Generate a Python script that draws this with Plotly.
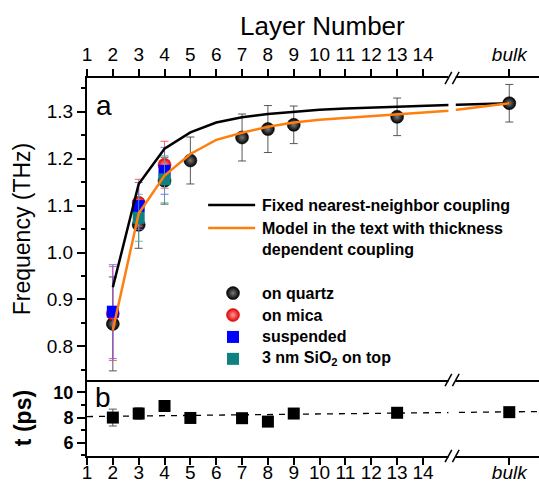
import plotly.graph_objects as go

# ---------------- data ----------------
BULK_POS = 17.34          # axis position used for the "bulk" category
tick_layers = list(range(1, 15))
tick_text = [str(v) for v in tick_layers] + ["<i>bulk</i>"]

quartz_x = [2, 3, 4, 5, 7, 8, 9, 13, "bulk"]
quartz_f = [0.848, 1.059, 1.153, 1.196, 1.245, 1.263, 1.272, 1.289, 1.318]
quartz_err = [0.10, 0.05, 0.05, 0.05, 0.05, 0.05, 0.04, 0.04, 0.04]

mica_x = [2, 3, 4]
mica_f = [0.870, 1.106, 1.187]
mica_err = [0.10, 0.05, 0.05]

susp_x = [2, 3, 4]
susp_f = [0.874, 1.099, 1.174]
susp_err = [0.10, 0.05, 0.05]

sio2_x = [3, 4]
sio2_f = [1.074, 1.156]
sio2_err = [0.05, 0.05]

model_x = [2, 3, 4, 5, 6, 7, 8, 9, 10, 11, 12, 13, 14, 15, "bulk"]
fixed_f = [0.926, 1.146, 1.221, 1.256, 1.277, 1.288, 1.295, 1.300, 1.304,
           1.307, 1.309, 1.311, 1.313, 1.314, 1.318]
thick_f = [0.835, 1.083, 1.164, 1.210, 1.240, 1.255, 1.268, 1.277, 1.283,
           1.287, 1.291, 1.294, 1.298, 1.302, 1.318]

tau_x = [2, 3, 4, 5, 7, 8, 9, 13, "bulk"]
tau_ps = [8.00, 8.32, 8.92, 7.97, 7.95, 7.68, 8.32, 8.38, 8.43]
tau_err = [0.67, 0.45, 0.20, 0.15, 0.15, 0.20, 0.15, 0.15, 0.15]

fit_x = [1, 18.5]
fit_ps = [8.08, 8.48]


def pos(vals):
    return [BULK_POS if v == "bulk" else v for v in vals]


tick_vals = tick_layers + [BULK_POS]
X_RANGE = [1, 18.49]
FONT = "Liberation Sans, Arial, sans-serif"

fig = go.Figure()


def sphere(color, hi):
    return dict(symbol="circle", size=13, color=color,
                gradient=dict(type="radial", color=hi), line=dict(width=0.5, color=color))


def square(color):
    return dict(symbol="square", size=12, color=color, line=dict(width=0))


BLACK_SPHERE = ("#000000", "#7a7a7a")
RED_SPHERE = ("#e00000", "#ff9a9a")

# panel a points
fig.add_trace(go.Scatter(x=pos(quartz_x), y=quartz_f, mode="markers",
                         marker=sphere(*BLACK_SPHERE),
                         error_y=dict(type="data", array=quartz_err, color="rgba(70,70,70,0.9)",
                                      thickness=1, width=4),
                         xaxis="x", yaxis="y", showlegend=False))
fig.add_trace(go.Scatter(x=pos(mica_x), y=mica_f, mode="markers",
                         marker=sphere(*RED_SPHERE),
                         error_y=dict(type="data", array=mica_err, color="rgba(255,70,70,0.85)",
                                      thickness=1, width=4),
                         xaxis="x", yaxis="y", showlegend=False))
fig.add_trace(go.Scatter(x=pos(susp_x), y=susp_f, mode="markers",
                         marker=square("#0000ff"),
                         error_y=dict(type="data", array=susp_err, color="rgba(90,90,255,0.85)",
                                      thickness=1, width=4),
                         xaxis="x", yaxis="y", showlegend=False))
fig.add_trace(go.Scatter(x=pos(sio2_x), y=sio2_f, mode="markers",
                         marker=square("#118080"),
                         error_y=dict(type="data", array=sio2_err, color="rgba(80,170,170,0.85)",
                                      thickness=1, width=4),
                         xaxis="x", yaxis="y", showlegend=False))

# model curves
fig.add_trace(go.Scatter(x=pos(model_x), y=fixed_f, mode="lines",
                         line=dict(color="#000000", width=2.5),
                         xaxis="x", yaxis="y", showlegend=False))
fig.add_trace(go.Scatter(x=pos(model_x), y=thick_f, mode="lines",
                         line=dict(color="#ff7f0e", width=2.5),
                         xaxis="x", yaxis="y", showlegend=False))

# panel b
fig.add_trace(go.Scatter(x=fit_x, y=fit_ps, mode="lines",
                         line=dict(color="#000000", width=1.3, dash="6px,6px"),
                         xaxis="x2", yaxis="y2", showlegend=False))
fig.add_trace(go.Scatter(x=pos(tau_x), y=tau_ps, mode="markers",
                         marker=dict(symbol="square", size=12, color="#000000"),
                         error_y=dict(type="data", array=tau_err, color="rgba(70,70,70,0.9)",
                                      thickness=1, width=4),
                         xaxis="x2", yaxis="y2", showlegend=False))

# custom legend markers (hidden axes spanning the whole plot area)
leg_mark_x = [0.323] * 4
leg_mark_y = [0.431, 0.373, 0.315, 0.257]
leg_styles = [sphere(*BLACK_SPHERE), sphere(*RED_SPHERE),
              square("#0000ff"), square("#118080")]
for i in range(4):
    fig.add_trace(go.Scatter(x=leg_mark_x[i:i + 1], y=leg_mark_y[i:i + 1], mode="markers",
                             marker=leg_styles[i], xaxis="x4", yaxis="y3",
                             showlegend=False, hoverinfo="skip"))

axis_common = dict(showline=True, linecolor="black", linewidth=2, showgrid=False,
                   zeroline=False, ticks="outside", tickcolor="black", tickwidth=1.5,
                   automargin=False,
                   tickfont=dict(family=FONT, size=19, color="black"))

SPLIT = 0.201

fig.update_layout(
    width=539, height=482,
    margin=dict(l=87, r=0, t=78, b=26, autoexpand=False),
    paper_bgcolor="white", plot_bgcolor="rgba(0,0,0,0)",
    font=dict(family=FONT, color="black"),
    xaxis=dict(axis_common, domain=[0, 1], anchor="y", side="top", range=X_RANGE,
               tickmode="array", tickvals=tick_vals, ticktext=tick_text,
               ticklen=7, mirror=True),
    yaxis=dict(axis_common, domain=[SPLIT, 1], anchor="x",
               range=[0.7285, 1.3717], tickmode="array",
               tickvals=[0.8, 0.9, 1.0, 1.1, 1.2, 1.3],
               ticktext=["0.8", "0.9", "1.0", "1.1", "1.2", "1.3"],
               ticklen=8,
               minor=dict(ticks="outside", tick0=0.75, dtick=0.05, ticklen=4,
                          tickcolor="black", tickwidth=1.5),
               title=dict(text="Frequency (THz)", font=dict(family=FONT, size=23),
                          standoff=10)),
    xaxis2=dict(axis_common, domain=[0, 1], anchor="y2", range=X_RANGE,
                tickmode="array", tickvals=tick_vals, ticktext=tick_text, ticklen=7,
                ticklabelstandoff=-9),
    xaxis3=dict(overlaying="x2", anchor="y2", side="top", range=X_RANGE,
                tickmode="array", tickvals=tick_vals, ticks="inside", ticklen=6,
                tickwidth=1.5, tickcolor="black", showticklabels=False,
                showline=False, showgrid=False, zeroline=False, automargin=False),
    yaxis2=dict(axis_common, domain=[0, SPLIT], anchor="x2", range=[4.95, 10.98],
                tickmode="array", tickvals=[6, 8, 10], ticklen=8,
                tickfont=dict(family=FONT, size=18, color="black", weight="bold"),
                minor=dict(ticks="outside", tick0=5, dtick=1, ticklen=4,
                           tickcolor="black", tickwidth=1.5),
                title=dict(text="t (ps)", font=dict(family=FONT, size=23, weight="bold"),
                           standoff=15)),
    xaxis4=dict(domain=[0, 1], anchor="y3", range=[0, 1], visible=False),
    yaxis3=dict(domain=[0, 1], anchor="x4", range=[0, 1], visible=False),
)

# legend lines
shapes = [
    dict(type="line", xref="paper", yref="paper", x0=0.268, x1=0.372, y0=0.664, y1=0.664,
         line=dict(color="black", width=2.5)),
    dict(type="line", xref="paper", yref="paper", x0=0.268, x1=0.372, y0=0.603, y1=0.603,
         line=dict(color="#ff7f0e", width=2.5)),
]

# axis break
bx0, bx1 = 14.985, 15.27
shapes.append(dict(type="rect", xref="x", yref="paper", x0=bx0, x1=bx1, y0=-0.012, y1=1.012,
                   fillcolor="white", line=dict(width=0), layer="above"))
for yc in [1.0, SPLIT, 0.0]:
    for xc in [bx0, bx1]:
        shapes.append(dict(type="line", xref="x", yref="paper",
                           x0=xc - 0.13, x1=xc + 0.13, y0=yc - 0.016, y1=yc + 0.016,
                           line=dict(color="black", width=1.5), layer="above"))

leg_font = dict(family=FONT, size=16, color="black", weight="bold")
tx = 0.383
ann = []
for text, yy in [("Fixed nearest-neighbor coupling", 0.664),
                 ("Model in the text with thickness", 0.603),
                 ("dependent coupling", 0.545),
                 ("on quartz", 0.431), ("on mica", 0.373), ("suspended", 0.315),
                 ("3 nm SiO<sub>2</sub> on top", 0.257)]:
    ann.append(dict(text=text, x=tx, y=yy, xref="paper", yref="paper",
                    xanchor="left", yanchor="middle", showarrow=False, font=leg_font))

ann.append(dict(text="a", x=0.0376, y=0.926, xref="paper", yref="paper", showarrow=False,
                xanchor="center", yanchor="middle", font=dict(family=FONT, size=28)))
ann.append(dict(text="b", x=0.0354, y=0.156, xref="paper", yref="paper", showarrow=False,
                xanchor="center", yanchor="middle", font=dict(family=FONT, size=28)))
ann.append(dict(text="Layer Number", x=0.52, y=1.1376, xref="paper", yref="paper",
                showarrow=False, xanchor="center", yanchor="middle",
                font=dict(family=FONT, size=26)))

fig.update_layout(shapes=shapes, annotations=ann)
fig.write_html("out.html", config={"displayModeBar": False},
               post_script="document.body.style.margin='0px';")
